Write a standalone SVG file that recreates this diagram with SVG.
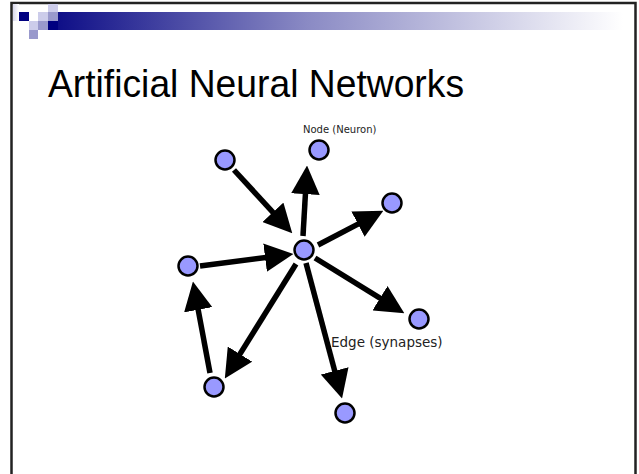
<svg xmlns="http://www.w3.org/2000/svg" width="639" height="474" viewBox="0 0 639 474">
  <defs>
    <linearGradient id="barGrad" x1="0" y1="0" x2="1" y2="0">
      <stop offset="0" stop-color="#0a0a85"/>
      <stop offset="0.45" stop-color="#8a8ac4"/>
      <stop offset="1" stop-color="#ffffff"/>
    </linearGradient>
    <linearGradient id="edgeGrad" x1="0" y1="0" x2="1" y2="0">
      <stop offset="0" stop-color="#d8d8ec"/>
      <stop offset="1" stop-color="#ffffff"/>
    </linearGradient>
    <!-- solid triangular head; refX=3 leaves the shaft hidden under the head -->
    <marker id="arrow" viewBox="0 0 10 10" refX="3" refY="5" markerWidth="5.2" markerHeight="5.2" markerUnits="strokeWidth" orient="auto">
      <path d="M0,0 L10,5 L0,10 Z" fill="#000"/>
    </marker>
  </defs>
  <style>
    .node { fill: #9999ff; stroke: #000; stroke-width: 2.5; }
    .edge { stroke: #000; stroke-width: 5.5; fill: none; marker-end: url(#arrow); }
    .label { font-family: "DejaVu Sans", Verdana, sans-serif; fill: #222; }
    .title { font-family: "Liberation Sans", Arial, sans-serif; font-size: 39px; fill: #000; }
  </style>

  <rect width="639" height="474" fill="#fff"/>

  <!-- slide frame -->
  <path d="M11.5,474 V3 H635.5 V474" fill="none" stroke="#222" stroke-width="2.5"/>

  <!-- header bar and squares -->
  <g id="header">
    <rect x="13" y="4" width="6" height="17" fill="url(#edgeGrad)"/>
    <rect x="48" y="12" width="575" height="18" fill="url(#barGrad)"/>
    <rect x="19" y="12" width="10" height="9" fill="#000080"/>
    <rect x="29" y="21" width="9" height="9" fill="#ccccea"/>
    <rect x="29" y="30" width="9" height="9" fill="#9999cc"/>
    <rect x="38" y="12" width="10" height="9" fill="#ccccea"/>
    <rect x="38" y="21" width="10" height="9" fill="#9999cc"/>
    <rect x="48" y="4" width="10" height="8" fill="#ccccea"/>
    <rect x="48" y="12" width="10" height="9" fill="#9999cc"/>
    <rect x="48" y="21" width="10" height="9" fill="#000080"/>
  </g>

  <text class="title" x="48" y="97" textLength="416" lengthAdjust="spacingAndGlyphs">Artificial Neural Networks</text>

  <!-- connectors -->
  <g id="edges">
    <line class="edge" x1="234" y1="170" x2="278.7" y2="218.6"/>
    <line class="edge" x1="303" y1="236" x2="305.9" y2="185.6"/>
    <line class="edge" x1="318" y1="245" x2="365.6" y2="220.1"/>
    <line class="edge" x1="200" y1="266" x2="273.6" y2="256.5"/>
    <line class="edge" x1="315" y1="258" x2="387.3" y2="302.7"/>
    <line class="edge" x1="306" y1="263" x2="336.9" y2="379.1"/>
    <line class="edge" x1="296" y1="264" x2="235.4" y2="361.4"/>
    <line class="edge" x1="210" y1="373" x2="196.6" y2="301.3"/>
  </g>

  <!-- nodes -->
  <g id="n-topleft"><circle class="node" cx="225" cy="160" r="9.5"/></g>
  <g id="n-neuron"><circle class="node" cx="319" cy="150" r="9.5"/></g>
  <g id="n-right"><circle class="node" cx="392" cy="203" r="9.5"/></g>
  <g id="n-center"><circle class="node" cx="304" cy="250" r="9.5"/></g>
  <g id="n-left"><circle class="node" cx="188" cy="266" r="9.5"/></g>
  <g id="n-lowright"><circle class="node" cx="419" cy="319" r="9.5"/></g>
  <g id="n-lowleft"><circle class="node" cx="214" cy="387" r="9.5"/></g>
  <g id="n-bottom"><circle class="node" cx="345" cy="413" r="9.5"/></g>

  <!-- labels -->
  <text class="label" x="303" y="133" font-size="10">Node (Neuron)</text>
  <text class="label" x="331" y="347" font-size="13.5">Edge (synapses)</text>
</svg>
